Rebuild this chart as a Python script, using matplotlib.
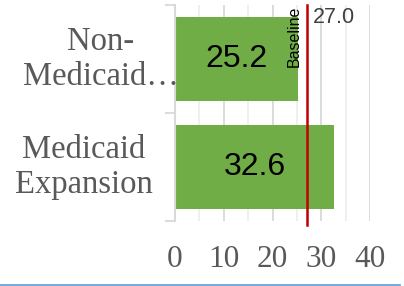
import matplotlib
matplotlib.use("Agg")
import matplotlib.pyplot as plt
from matplotlib.lines import Line2D

categories = ["Non-\nMedicaid\u2026", "Medicaid\nExpansion"]
values = [25.2, 32.6]
baseline = 27.0
xticks = [0, 10, 20, 30, 40]

GREEN = "#70ad47"
RED = "#c00000"
SERIF = "Liberation Serif"
SANS = "Liberation Sans"

fig = plt.figure(figsize=(4.04, 2.86), dpi=100)
ax = fig.add_axes([175 / 404, 1 - 221 / 286, 195 / 404, 216 / 286])

ypos = list(range(len(categories)))
ax.barh(ypos, values, height=0.77, color=GREEN, zorder=2)
ax.set_ylim(len(categories) - 0.5, -0.5)
ax.set_xlim(xticks[0], xticks[-1])

# gridlines: major every 10, minor every 5
ax.set_xticks(xticks)
ax.set_xticks([5, 15, 25, 35], minor=True)
ax.grid(axis="x", which="major", color="#d9d9d9", lw=1.3, zorder=0)
ax.grid(axis="x", which="minor", color="#eeeeee", lw=1.3, zorder=0)
ax.set_xticklabels([str(t) for t in xticks], fontfamily=SERIF, fontsize=22.5, color="#595959")
ax.tick_params(axis="x", which="both", length=0, pad=17)

# y axis: spine with boundary ticks, labels drawn as text
ax.set_yticks([y - 0.5 for y in ypos] + [ypos[-1] + 0.5])
ax.set_yticklabels([])
ax.tick_params(axis="y", length=7, width=1.3, color="#d9d9d9")
for s in ["top", "right", "bottom"]:
    ax.spines[s].set_visible(False)
ax.spines["left"].set_color("#d9d9d9")
ax.spines["left"].set_linewidth(1.5)

label_x = [-0.38, -0.467]
for y, lab, lx in zip(ypos, categories, label_x):
    ax.text(lx, y, lab, transform=ax.get_yaxis_transform(), ha="center", va="center",
            multialignment="center", fontfamily=SERIF, fontsize=23.5, color="#595959",
            linespacing=1.2)

# value labels in bar centers
for y, v in zip(ypos, values):
    ax.text(v / 2, y, f"{v:.1f}", ha="center", va="center", fontfamily=SANS,
            fontsize=23, color="black", zorder=3)

# baseline marker
ax.axvline(baseline, ymin=-0.02, ymax=1.0, color=RED, lw=1.8, zorder=4, clip_on=False)
ax.text(baseline - 0.9, 0.998, "Baseline", transform=ax.get_xaxis_transform(), rotation=90,
        ha="right", va="top", fontfamily=SANS, fontsize=11.5, color="black")
ax.text(baseline + 1.3, 0.94, f"{baseline:.1f}", transform=ax.get_xaxis_transform(),
        ha="left", va="center", fontfamily=SANS, fontsize=15.5, color="#404040")

# thin blue rule along the bottom edge
fig.add_artist(Line2D([0, 0.99], [1 - 284.5 / 286] * 2, transform=fig.transFigure,
                      color="#5b9bd5", lw=1.2))

fig.savefig("out.png", dpi=100)
